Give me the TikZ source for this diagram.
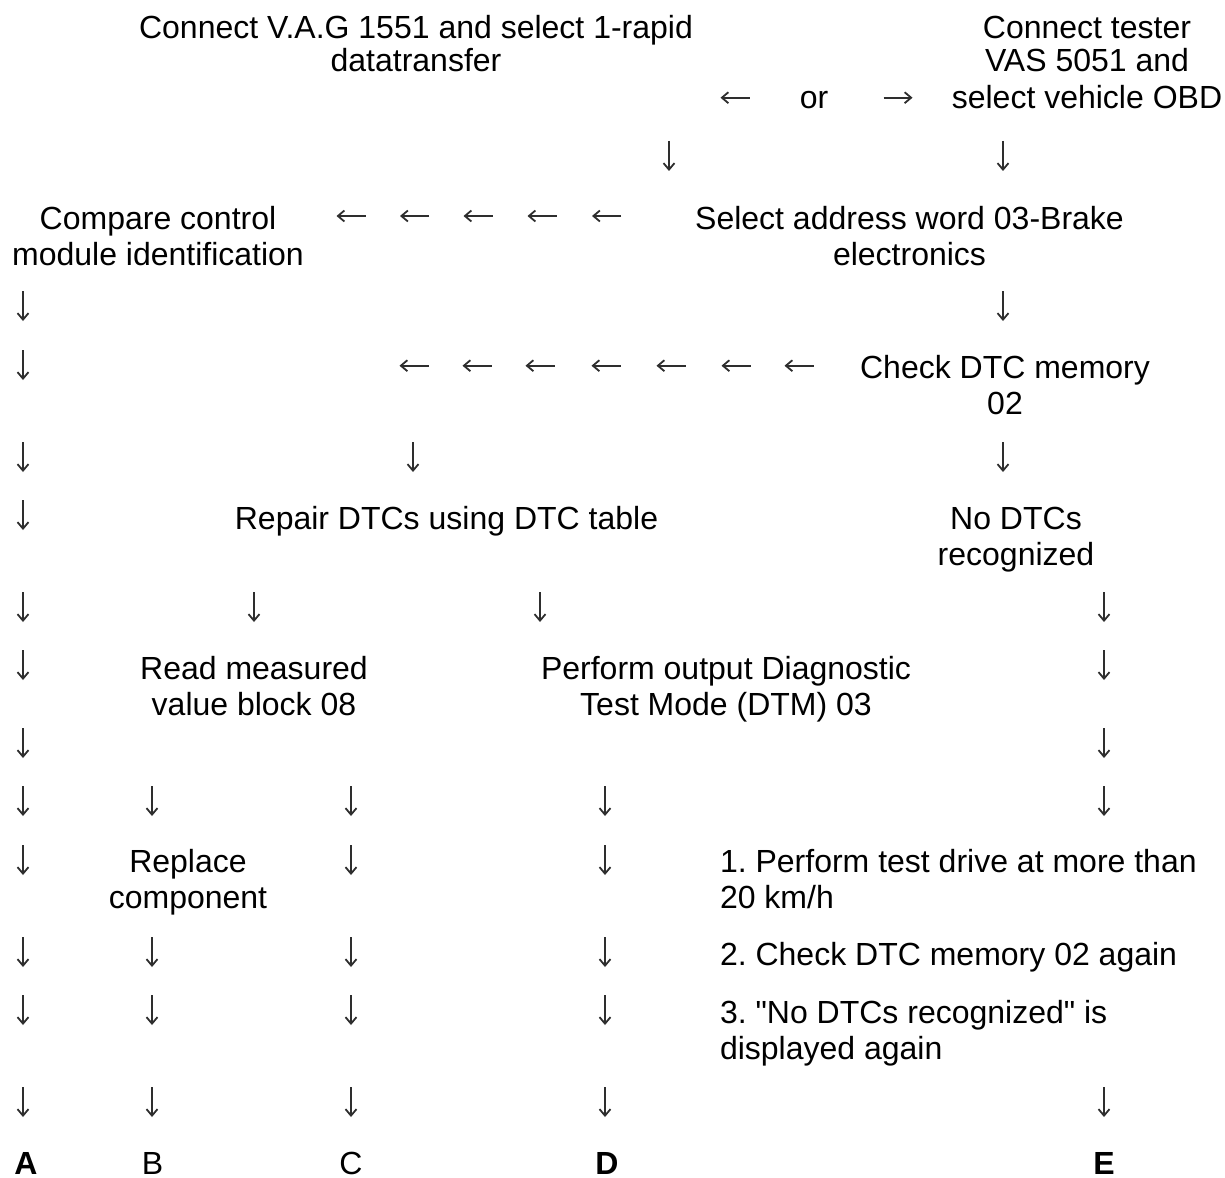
\documentclass[tikz,border=0pt]{standalone}
\usepackage{fontspec}
\setmainfont{Liberation Sans}
\usetikzlibrary{arrows.meta}
% multi-line text block whose base is the baseline of its first line
\newcommand\block[2][c]{\begin{tabular}[t]{@{}#1@{}}#2\end{tabular}}

\begin{document}
\frenchspacing
\begin{tikzpicture}[x=1pt,y=-1pt,
  every node/.style={inner sep=0pt, outer sep=0pt, font=\fontsize{32}{36}\selectfont},
  steptext/.style={anchor=base},
  listtext/.style={anchor=base west},
  glyph/.style={line width=1.8pt, draw=black!82,
    -{Straight Barb[length=6.5pt,width=11pt,line width=1.8pt]}},
  pics/dnarrow/.style={code={\draw[glyph] (0,-15) -- (0,15);}},
  pics/ltarrow/.style={code={\draw[glyph] (14.5,0) -- (-14.5,0);}},
  pics/rtarrow/.style={code={\draw[glyph] (-14.5,0) -- (14.5,0);}}
]
\fill[white] (0,0) rectangle (1225,1177);
\useasboundingbox (0,0) rectangle (1225,1177);

% start: two ways of connecting
\node[steptext] (vag) at (416,38.5) {\block{Connect V.A.G 1551 and select 1-rapid\\[-2.5pt]datatransfer}};
\node[steptext] (vas) at (1087,38.5) {\block{Connect tester\\[-2.5pt]VAS 5051 and\\[0.5pt]select vehicle OBD}};
\node[steptext] (or) at (814,108.5) {or};
\pic at (735,97.7) {ltarrow};
\pic at (898,97.7) {rtarrow};
\foreach \x in {669,1003} \pic at (\x,156) {dnarrow};

% address word
\node[steptext] (cmp) at (158,229) {\block{Compare control\\module identification}};
\foreach \x in {351,414.5,478,542,606.5} \pic at (\x,216) {ltarrow};
\node[steptext] (addr) at (909.5,229) {\block{Select address word 03-Brake\\electronics}};
\foreach \x in {23,1003} \pic at (\x,306) {dnarrow};

% DTC memory
\pic at (23,365) {dnarrow};
\foreach \x in {414,477,540,606,671,736,799} \pic at (\x,365.7) {ltarrow};
\node[steptext] (dtc) at (1005,378) {\block{Check DTC memory\\02}};
\foreach \x in {23,413,1003} \pic at (\x,457) {dnarrow};

\pic at (23,515) {dnarrow};
\node[steptext] (repair) at (446.5,529) {Repair DTCs using DTC table};
\node[steptext] (nodtc) at (1016,529) {\block{No DTCs\\recognized}};
\foreach \x in {23,254,540,1104} \pic at (\x,607) {dnarrow};

\foreach \x in {23,1104} \pic at (\x,665) {dnarrow};
\node[steptext] (mvb) at (254,679) {\block{Read measured\\value block 08}};
\node[steptext] (dtm) at (726,679) {\block{Perform output Diagnostic\\Test Mode (DTM) 03}};
\foreach \x in {23,1104} \pic at (\x,743) {dnarrow};

\foreach \x in {23,152,351,605,1104} \pic at (\x,801) {dnarrow};

\foreach \x in {23,351,605} \pic at (\x,860) {dnarrow};
\node[steptext] (repl) at (188,872.5) {\block{Replace\\component}};
\node[listtext] (s1) at (720,872.5) {\block[l]{1. Perform test drive at more than\\20 km/h}};

\foreach \x in {23,152,351,605} \pic at (\x,952) {dnarrow};
\node[listtext] (s2) at (720,965) {2. Check DTC memory 02 again};

\foreach \x in {23,152,351,605} \pic at (\x,1010) {dnarrow};
\node[listtext] (s3) at (720,1023) {\block[l]{3. \textquotedbl No DTCs recognized\textquotedbl{} is\\displayed again}};

\foreach \x in {23,152,351,605,1104} \pic at (\x,1102) {dnarrow};

% outcomes
\node[steptext] (A) at (26,1174.5) {\bfseries A};
\node[steptext] (B) at (152.5,1174.5) {B};
\node[steptext] (C) at (351,1174.5) {C};
\node[steptext] (D) at (607,1174.5) {\bfseries D};
\node[steptext] (E) at (1104,1174.5) {\bfseries E};
\end{tikzpicture}
\end{document}
